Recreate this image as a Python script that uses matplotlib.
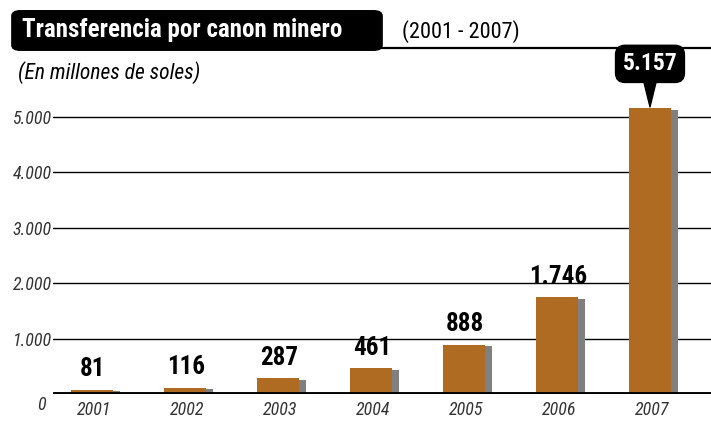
import matplotlib
matplotlib.use("Agg")
import matplotlib.pyplot as plt
from matplotlib.patches import FancyBboxPatch
from matplotlib.lines import Line2D
from matplotlib import font_manager

# Data
years = ["2001", "2002", "2003", "2004", "2005", "2006", "2007"]
values = [81, 116, 287, 461, 888, 1746, 5157]
value_labels = ["81", "116", "287", "461", "888", "1.746", "5.157"]
ytick_vals = [1000, 2000, 3000, 4000, 5000]
ytick_labels = ["1.000", "2.000", "3.000", "4.000", "5.000"]

bar_color = "#AF6B22"
shadow_color = "#808080"

names = {f.name for f in font_manager.fontManager.ttflist}
narrow = [n for n in ["Roboto Condensed", "Liberation Sans Narrow", "Liberation Sans"] if n in names][:1] + ["DejaVu Sans"]

fig = plt.figure(figsize=(7.11, 4.23), dpi=100)
W, H = 711, 423

# axes: left 53px, bottom at 394px, top at 100px
ax = fig.add_axes([53 / W, (H - 394) / H, 1 - 53 / W, (394 - 100) / H])
ax.set_xlim(-0.419, 6.656)
ax.set_ylim(0, 5307)

x = list(range(len(years)))
width = 0.45
shift = 0.075

# shadow bars then main bars
ax.bar([i + shift for i in x], [v - 30 for v in values], width=width,
       color=shadow_color, zorder=2)
ax.bar(x, values, width=width, color=bar_color, zorder=3)

# grid lines
for y in ytick_vals:
    ax.axhline(y, color="black", lw=1.0, zorder=1)
ax.axhline(0, color="black", lw=2.8, zorder=4)

for s in ax.spines.values():
    s.set_visible(False)
ax.set_xticks([])
ax.set_yticks(ytick_vals)
ax.set_yticklabels(ytick_labels, fontstyle="italic", fontsize=13,
                   color="#333333", family=narrow)
ax.tick_params(axis="y", length=0, pad=1)
ax.text(-0.5, -40, "0", ha="right", va="top", fontstyle="italic",
        fontsize=13, color="#333333", family=narrow)

# year labels
for i, yr in enumerate(years):
    ax.text(i + 0.02, -120, yr, ha="center", va="top", fontstyle="italic",
            fontsize=13, color="#333333", family=narrow)

# value labels
for i, (v, lab) in enumerate(zip(values, value_labels)):
    if i == len(values) - 1:
        ax.annotate(lab, xy=(i, v), xytext=(0, 32), textcoords="offset points",
                    ha="center", va="center", fontsize=17, fontweight="bold",
                    color="white", family=narrow, zorder=6,
                    bbox=dict(boxstyle="round,pad=0.3,rounding_size=0.4",
                              fc="black", ec="black"),
                    arrowprops=dict(arrowstyle="wedge,tail_width=0.5,shrink_factor=0.5",
                                    fc="black", ec="black", shrinkA=0, shrinkB=1))
    else:
        ax.text(i + 0.01, v + 150, lab, ha="center", va="bottom", fontsize=18,
                fontweight="bold", color="black", family=narrow, zorder=5)

# title block
box = FancyBboxPatch((14 / W, (H - 49) / H), (380 - 14) / W, 37 / H,
                     boxstyle="round,pad=0.003,rounding_size=0.012",
                     transform=fig.transFigure, fc="black", ec="black")
fig.patches.append(box)
fig.lines.append(Line2D([380 / W, 1.0], [(H - 48.5) / H] * 2, color="black",
                        lw=1.6, transform=fig.transFigure))
fig.text(22 / W, (H - 30) / H, "Transferencia por canon minero", ha="left",
         va="center", fontsize=18, fontweight="bold", color="white", family=narrow)
fig.text(402 / W, (H - 32) / H, "(2001 - 2007)", ha="left", va="center",
         fontsize=16, color="black", family=narrow)
fig.text(18 / W, (H - 73) / H, "(En millones de soles)", ha="left", va="center",
         fontsize=15.5, fontstyle="italic", color="black", family=narrow)

fig.savefig("out.png", dpi=100)
